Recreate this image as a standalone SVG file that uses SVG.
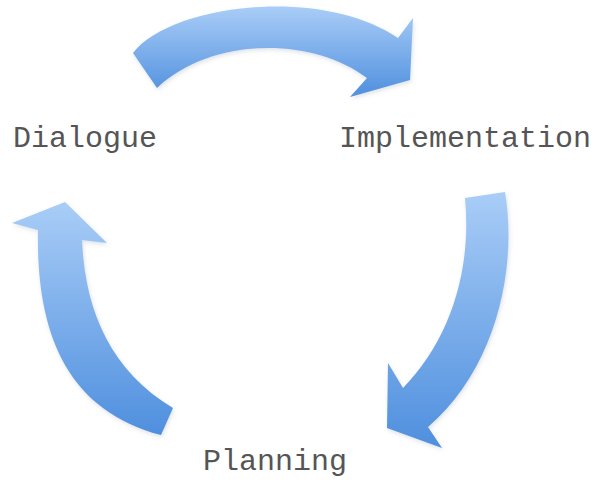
<svg xmlns="http://www.w3.org/2000/svg" width="595" height="482" viewBox="0 0 595 482">
  <style>
    .label { font-family: "Liberation Mono", "Courier New", monospace; font-size: 30px; fill: #555555; }
    .arrow { fill: url(#blue); filter: url(#soft); }
  </style>
  <defs>
    <linearGradient id="blue" x1="0" y1="0" x2="0" y2="1">
      <stop offset="0" stop-color="#a9cdf7"/>
      <stop offset="1" stop-color="#4f8fde"/>
    </linearGradient>
    <filter id="soft" x="-10%" y="-10%" width="120%" height="120%">
      <feDropShadow dx="1" dy="2" stdDeviation="2" flood-color="#7a8aa0" flood-opacity="0.25"/>
    </filter>
  </defs>
  <rect width="595" height="482" fill="#ffffff"/>

  <g id="connectors">
    <path id="arrow-dialogue-implementation" class="arrow"
          d="M133,53 C170,5 320,-15 398,38 L413,18 L410,80 L350,97 L367,78 C310,35 210,38 157,88 Z"/>
    <path id="arrow-implementation-planning" class="arrow"
          d="M465,198 L505,192 C518,270 495,370 428,427 L442,448 L387,428 L388,363 L403,388 C450,340 472,270 465,198 Z"/>
    <path id="arrow-planning-dialogue" class="arrow"
          d="M173,408 L161,435 C65,410 36,330 38,230 L12,223 L65,202 L107,243 L82,240 C85,310 110,370 173,408 Z"/>
  </g>

  <g id="node-dialogue">
    <text class="label" x="13" y="147">Dialogue</text>
  </g>
  <g id="node-implementation">
    <text class="label" x="339" y="147">Implementation</text>
  </g>
  <g id="node-planning">
    <text class="label" x="203" y="470">Planning</text>
  </g>
</svg>
